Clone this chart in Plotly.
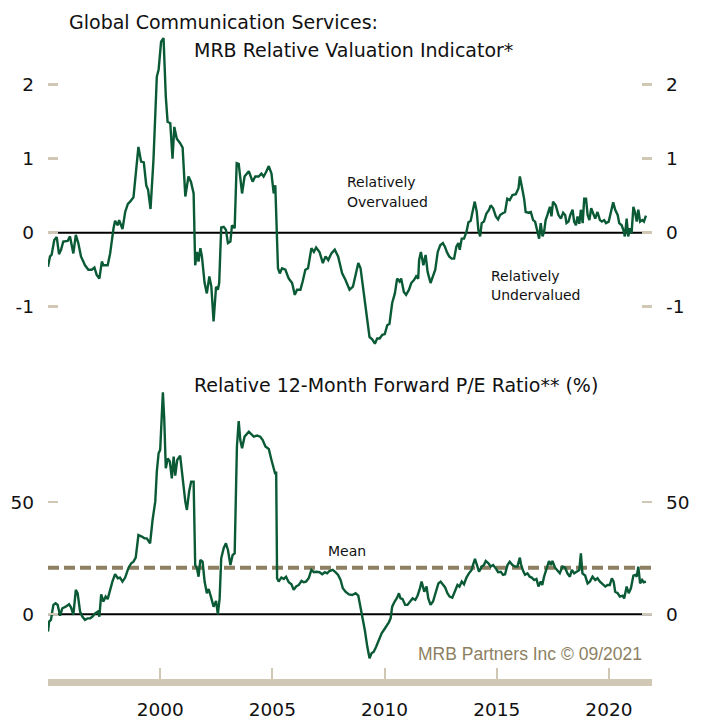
import plotly.graph_objects as go

# ---------------- data ----------------
top_years = [1995.00,1995.09,1995.16,1995.28,1995.39,1995.49,1995.58,1995.68,1995.88,1995.98,
 1996.13,1996.24,1996.35,1996.47,1996.65,1996.80,1996.95,1997.07,1997.17,1997.29,
 1997.40,1997.47,1997.66,1997.77,1997.92,1997.99,1998.11,1998.17,1998.32,1998.44,
 1998.56,1998.66,1998.81,1998.91,1999.03,1999.15,1999.27,1999.38,1999.46,1999.57,
 1999.70,1999.85,1999.93,2000.04,2000.15,2000.25,2000.33,2000.45,2000.55,2000.63,
 2000.74,2000.89,2001.00,2001.12,2001.26,2001.37,2001.49,2001.56,2001.64,2001.71,
 2001.79,2001.86,2001.98,2002.08,2002.19,2002.28,2002.38,2002.49,2002.57,2002.63,
 2002.72,2002.83,2002.93,2003.02,2003.13,2003.20,2003.32,2003.41,2003.50,2003.65,
 2003.76,2003.95,2004.12,2004.24,2004.39,2004.51,2004.61,2004.72,2004.84,2004.96,
 2005.06,2005.13,2005.18,2005.25,2005.33,2005.43,2005.58,2005.73,2005.88,2006.00,
 2006.10,2006.25,2006.35,2006.47,2006.59,2006.74,2006.85,2006.95,2007.10,2007.25,
 2007.37,2007.49,2007.63,2007.78,2007.93,2008.11,2008.26,2008.44,2008.59,2008.71,
 2008.83,2008.93,2009.00,2009.12,2009.23,2009.33,2009.45,2009.57,2009.67,2009.78,
 2009.90,2010.01,2010.12,2010.22,2010.34,2010.46,2010.56,2010.67,2010.74,2010.86,
 2010.96,2011.09,2011.19,2011.31,2011.41,2011.50,2011.54,2011.62,2011.73,2011.83,
 2011.92,2012.05,2012.16,2012.26,2012.37,2012.48,2012.60,2012.69,2012.79,2012.88,
 2012.99,2013.10,2013.20,2013.29,2013.35,2013.44,2013.54,2013.65,2013.74,2013.84,
 2013.92,2014.02,2014.11,2014.18,2014.26,2014.33,2014.43,2014.54,2014.66,2014.73,
 2014.84,2014.96,2015.06,2015.15,2015.25,2015.37,2015.47,2015.58,2015.70,2015.85,
 2015.97,2016.03,2016.12,2016.22,2016.29,2016.41,2016.52,2016.62,2016.71,2016.82,
 2016.89,2016.96,2017.04,2017.11,2017.18,2017.26,2017.37,2017.44,2017.51,2017.63,
 2017.75,2017.86,2017.96,2018.05,2018.11,2018.20,2018.28,2018.38,2018.45,2018.53,
 2018.60,2018.68,2018.75,2018.83,2018.90,2018.98,2019.05,2019.13,2019.21,2019.30,
 2019.39,2019.49,2019.60,2019.69,2019.79,2019.87,2019.99,2020.09,2020.19,2020.28,
 2020.39,2020.46,2020.57,2020.64,2020.71,2020.79,2020.86,2020.94,2021.01,2021.09,
 2021.16,2021.24,2021.31,2021.39,2021.49,2021.56,2021.65]
top_values = [-0.46,-0.32,-0.30,-0.10,-0.06,-0.29,-0.23,-0.12,-0.11,-0.05,
 -0.28,-0.03,-0.14,-0.32,-0.44,-0.50,-0.50,-0.47,-0.57,-0.62,
 -0.39,-0.44,-0.44,-0.28,0.06,0.16,0.10,0.17,0.05,0.28,
 0.39,0.42,0.48,0.76,1.16,0.96,0.95,0.64,0.58,0.32,
 0.98,2.11,2.20,2.58,2.63,1.84,1.50,1.48,1.00,1.43,
 1.27,1.21,1.15,0.49,0.76,0.69,0.53,-0.44,-0.26,-0.39,
 -0.21,-0.32,-0.68,-0.82,-0.59,-0.73,-1.20,-0.73,-0.77,-0.68,
 0.07,0.08,0.04,-0.14,-0.12,0.10,0.06,0.94,0.93,0.53,
 0.76,0.83,0.69,0.76,0.76,0.80,0.76,0.82,0.90,0.80,
 0.53,0.64,0.04,-0.48,-0.55,-0.48,-0.50,-0.62,-0.68,-0.84,
 -0.77,-0.77,-0.66,-0.50,-0.48,-0.21,-0.26,-0.20,-0.26,-0.41,
 -0.32,-0.37,-0.28,-0.23,-0.32,-0.55,-0.64,-0.77,-0.73,-0.59,
 -0.41,-0.48,-0.66,-0.95,-1.18,-1.41,-1.44,-1.50,-1.43,-1.43,
 -1.38,-1.37,-1.25,-1.23,-0.95,-0.82,-0.62,-0.66,-0.62,-0.80,
 -0.84,-0.77,-0.68,-0.64,-0.59,-0.62,-0.37,-0.26,-0.44,-0.30,
 -0.53,-0.68,-0.59,-0.50,-0.26,-0.17,-0.14,-0.19,-0.27,-0.32,
 -0.35,-0.35,-0.19,-0.14,-0.23,-0.08,-0.08,0.01,0.14,0.16,
 0.28,0.42,0.28,0.04,-0.05,0.13,0.15,0.26,0.31,0.37,
 0.33,0.22,0.18,0.24,0.26,0.28,0.46,0.44,0.51,0.52,
 0.60,0.76,0.62,0.46,0.28,0.27,0.28,0.17,0.15,-0.01,
 -0.08,0.13,-0.05,0.01,0.17,0.24,0.35,0.22,0.42,0.37,
 0.24,0.19,0.27,0.24,0.13,0.15,0.24,0.31,0.15,0.10,
 0.22,0.12,0.31,0.13,0.46,0.46,0.24,0.17,0.33,0.26,
 0.19,0.28,0.17,0.15,0.17,0.13,0.15,0.28,0.41,0.31,
 0.24,0.13,0.10,0.04,-0.05,0.19,-0.05,0.06,-0.01,0.35,
 0.28,0.15,0.31,0.15,0.17,0.15,0.23]

pe_years = [1995.00,1995.05,1995.13,1995.24,1995.34,1995.43,1995.54,1995.64,1995.79,1995.94,
 1996.03,1996.13,1996.24,1996.32,1996.43,1996.53,1996.65,1996.77,1996.88,1996.98,
 1997.10,1997.22,1997.29,1997.37,1997.47,1997.57,1997.66,1997.77,1997.87,1997.99,
 1998.11,1998.21,1998.32,1998.44,1998.59,1998.71,1998.81,1998.91,1999.03,1999.18,
 1999.30,1999.40,1999.55,1999.66,1999.78,1999.85,1999.93,2000.00,2000.07,2000.12,
 2000.18,2000.25,2000.34,2000.43,2000.52,2000.60,2000.67,2000.76,2000.89,2001.00,
 2001.12,2001.19,2001.29,2001.38,2001.49,2001.56,2001.64,2001.71,2001.79,2001.89,
 2001.98,2002.08,2002.16,2002.26,2002.38,2002.49,2002.57,2002.65,2002.72,2002.83,
 2002.93,2003.02,2003.13,2003.23,2003.32,2003.42,2003.50,2003.57,2003.65,2003.76,
 2003.95,2004.17,2004.32,2004.46,2004.57,2004.69,2004.84,2004.96,2005.06,2005.13,
 2005.17,2005.21,2005.28,2005.40,2005.51,2005.61,2005.73,2005.85,2005.95,2006.06,
 2006.18,2006.30,2006.40,2006.50,2006.62,2006.74,2006.85,2006.95,2007.10,2007.22,
 2007.34,2007.44,2007.54,2007.69,2007.81,2007.93,2008.04,2008.14,2008.26,2008.41,
 2008.56,2008.71,2008.83,2008.93,2009.03,2009.12,2009.23,2009.33,2009.42,2009.52,
 2009.63,2009.75,2009.87,2009.97,2010.07,2010.19,2010.27,2010.34,2010.45,2010.56,
 2010.64,2010.71,2010.80,2010.92,2011.02,2011.12,2011.25,2011.37,2011.47,2011.57,
 2011.65,2011.77,2011.87,2011.95,2012.05,2012.16,2012.28,2012.40,2012.50,2012.60,
 2012.70,2012.80,2012.90,2013.02,2013.14,2013.25,2013.34,2013.44,2013.54,2013.65,
 2013.76,2013.88,2013.94,2014.03,2014.14,2014.21,2014.33,2014.43,2014.51,2014.63,
 2014.73,2014.84,2014.96,2015.06,2015.18,2015.28,2015.37,2015.48,2015.58,2015.70,
 2015.82,2015.92,2016.03,2016.09,2016.18,2016.26,2016.37,2016.47,2016.56,2016.67,
 2016.77,2016.86,2016.96,2017.03,2017.11,2017.21,2017.33,2017.41,2017.48,2017.60,
 2017.71,2017.81,2017.93,2018.05,2018.15,2018.26,2018.35,2018.45,2018.56,2018.68,
 2018.75,2018.82,2018.94,2019.05,2019.15,2019.27,2019.39,2019.49,2019.60,2019.72,
 2019.84,2019.94,2020.04,2020.13,2020.21,2020.28,2020.39,2020.49,2020.61,2020.68,
 2020.79,2020.88,2020.98,2021.09,2021.18,2021.24,2021.31,2021.39,2021.48,2021.55,
 2021.65]
pe_values = [-7.7,-3.3,-2.5,4.2,4.9,4.2,-0.6,2.7,3.4,4.5,
 3.0,-0.3,10.9,9.4,1.2,-1.0,-2.5,-1.8,-1.8,-1.0,
 0.4,1.2,-1.0,8.9,5.7,7.9,6.8,11.6,14.6,17.9,
 16.1,16.4,14.6,16.4,20.8,22.8,23.5,25.3,35.4,34.7,
 33.9,33.9,31.7,42.1,50.3,63.7,71.9,73.4,92.0,99.1,
 87.5,65.2,69.6,68.2,60.7,70.4,61.9,68.9,70.8,60.0,
 50.3,46.6,54.8,59.2,59.2,22.0,20.5,16.8,24.3,23.5,
 14.6,9.4,11.3,7.9,3.4,6.0,0.0,7.1,25.0,29.5,
 31.7,28.7,22.0,26.5,27.2,74.9,86.3,77.8,74.1,79.3,
 81.5,79.3,79.8,79.3,77.8,74.9,73.8,68.9,64.4,62.5,
 63.7,16.1,14.6,16.4,15.8,16.8,14.3,13.4,10.9,12.4,
 13.1,14.9,14.3,14.6,16.1,19.8,18.8,19.0,18.8,17.9,
 18.8,18.3,19.3,19.8,18.8,17.6,15.3,11.6,10.1,8.9,
 8.6,9.4,8.3,3.4,-1.8,-7.0,-14.4,-19.6,-17.4,-16.7,
 -14.4,-11.5,-8.5,-7.0,-5.5,-3.6,-1.8,3.4,5.7,7.4,
 9.4,7.1,6.8,4.2,4.2,5.4,7.1,6.4,8.3,11.3,
 14.6,10.1,12.4,7.1,4.2,5.7,10.1,13.8,14.6,13.1,
 12.0,9.4,7.9,7.4,10.1,13.1,12.4,14.6,13.4,16.4,
 18.3,19.8,22.0,24.7,21.3,19.0,21.3,22.0,23.8,22.8,
 21.3,22.0,20.5,18.8,19.0,17.6,17.9,22.0,23.5,22.0,
 21.3,21.3,25.3,22.0,19.3,17.6,18.3,16.8,16.4,15.3,
 15.8,12.4,14.6,13.1,16.8,19.8,23.8,22.0,23.8,20.8,
 19.3,18.3,21.3,20.8,18.3,16.8,19.8,18.3,19.0,19.8,
 27.2,18.3,17.3,13.8,14.6,16.8,15.3,16.1,14.6,13.4,
 12.4,13.1,13.1,16.1,14.6,10.1,9.4,7.9,8.3,7.1,
 12.4,9.4,11.6,17.3,17.6,16.8,21.3,13.8,15.3,14.3,
 14.6]
PE_MEAN = 20.8

x_tickvals = [1995, 2000, 2005, 2010, 2015, 2020]
x_ticktext = ["", "2000", "2005", "2010", "2015", "2020"]
top_tickvals = [-1, 0, 1, 2]
top_ticktext = ["-1", "0", "1", "2"]
pe_tickvals = [0, 50]
pe_ticktext = ["0", "50"]

# ---------------- layout helpers (pixel geometry) ----------------
# The page adds an 8px body margin, so the figure is drawn 8px in from the corner.
OFF = 8
W, H = 706 - OFF, 719 - OFF
PLOT_L, PLOT_R, PLOT_T, PLOT_B = 48, 652, 8, 679   # plot area in screen pixels
ML, MR = PLOT_L - OFF, W - (PLOT_R - OFF)
MT, MB = PLOT_T - OFF, H - (PLOT_B - OFF)
PW, PH = PLOT_R - PLOT_L, PLOT_B - PLOT_T


def py(p):
    return (PLOT_B - p) / PH


def px(x):
    return (x - PLOT_L) / PW


def top_val(p):
    return (232.7 - p) / 74.0


def pe_val(p):
    return (614.3 - p) / 2.24


FONT = "DejaVu Sans"
FONT2 = "Liberation Sans"
TXT = "#111111"
GREEN = "#0b5a36"
TAN = "#d0c8b4"
OLIVE = "#8c7f62"

fig = go.Figure()
fig.add_trace(go.Scatter(x=top_years, y=top_values, mode="lines",
                         line=dict(color=GREEN, width=2.4), xaxis="x", yaxis="y",
                         hoverinfo="skip", showlegend=False))
fig.add_trace(go.Scatter(x=pe_years, y=pe_values, mode="lines",
                         line=dict(color=GREEN, width=2.4), xaxis="x", yaxis="y2",
                         hoverinfo="skip", showlegend=False))

yax_common = dict(showgrid=False, zeroline=False, showline=False, ticks="inside",
                  ticklen=10, tickcolor=TAN, tickfont=dict(family=FONT, size=18.5, color=TXT),
                  ticklabelstandoff=13, fixedrange=True)

top_range = [top_val(350), top_val(30)]
pe_range = [pe_val(PLOT_B), pe_val(385)]

fig.update_layout(
    width=W, height=H,
    margin=dict(l=ML, r=MR, t=MT, b=MB, autoexpand=False),
    paper_bgcolor="white", plot_bgcolor="white",
    showlegend=False,
    xaxis=dict(range=[1995.0, 2021.92], anchor="y2", tickvals=x_tickvals, ticktext=x_ticktext,
               ticks="inside", ticklen=11, tickwidth=2, tickcolor=TAN,
               showline=True, linewidth=7, linecolor=TAN, showgrid=False, zeroline=False,
               tickfont=dict(family=FONT, size=18.5, color=TXT), ticklabelstandoff=8,
               fixedrange=True),
    yaxis=dict(domain=[py(350), py(30)], range=top_range, tickvals=top_tickvals,
               ticktext=top_ticktext, anchor="x", tickwidth=2.5, **yax_common),
    yaxis3=dict(overlaying="y", side="right", range=top_range, tickvals=top_tickvals,
                ticktext=top_ticktext, anchor="x", tickwidth=2.5, **yax_common),
    yaxis2=dict(domain=[0, py(385)], range=pe_range, tickvals=pe_tickvals,
                ticktext=pe_ticktext, anchor="x", tickwidth=1.5, **yax_common),
    yaxis4=dict(overlaying="y2", side="right", range=pe_range, tickvals=pe_tickvals,
                ticktext=pe_ticktext, anchor="x", tickwidth=1.5, **yax_common),
)
# invisible traces so the right-hand axes render
fig.add_trace(go.Scatter(x=[top_years[0]], y=[top_values[0]], yaxis="y3", xaxis="x",
                         mode="lines", line=dict(width=0), hoverinfo="skip", showlegend=False))
fig.add_trace(go.Scatter(x=[pe_years[0]], y=[pe_values[0]], yaxis="y4", xaxis="x",
                         mode="lines", line=dict(width=0), hoverinfo="skip", showlegend=False))

# reference lines
fig.add_shape(type="line", xref="x domain", yref="y", x0=10 / PW, x1=1 - 10 / PW, y0=0, y1=0,
              line=dict(color="black", width=2), layer="below")
fig.add_shape(type="line", xref="x domain", yref="y2", x0=0, x1=1, y0=0, y1=0,
              line=dict(color="black", width=2), layer="below")
fig.add_shape(type="line", xref="x domain", yref="y2", x0=0, x1=1, y0=PE_MEAN, y1=PE_MEAN,
              line=dict(color=OLIVE, width=4, dash="11px,5px"), layer="below")


def label(text, x, ycap, size, color=TXT, xanchor="left", family=FONT):
    fig.add_annotation(text=text, xref="paper", yref="paper", x=px(x), y=py(ycap),
                       xanchor=xanchor, yanchor="middle", showarrow=False,
                       font=dict(family=family, size=size, color=color))


label("Global Communication Services:", 67, 21.7, 19)
label("MRB Relative Valuation Indicator*", 192, 50, 19)
label("Relative 12-Month Forward P/E Ratio** (%)", 192, 385, 19)
label("Relatively", 345, 181.7, 14)
label("Overvalued", 345, 201.7, 14)
label("Relatively", 489, 275.7, 14)
label("Undervalued", 489, 295, 14)
label("Mean", 326, 551, 14)
label("MRB Partners Inc © 09/2021", 644, 654, 17.5, color=OLIVE, xanchor="right", family=FONT2)

fig.write_html("out.html")
